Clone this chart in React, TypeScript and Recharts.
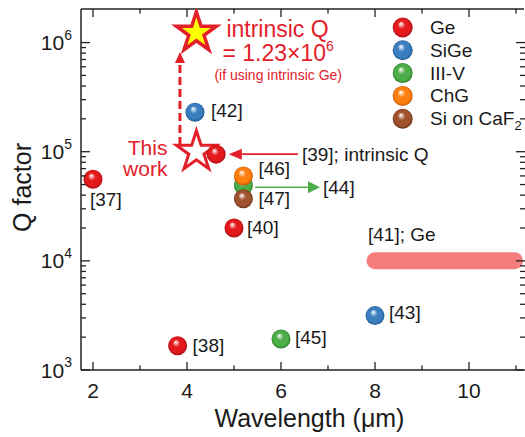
import React from "react";
import { Legend, ReferenceLine, Scatter, ScatterChart, XAxis, YAxis } from "recharts";

const FONT = '"Liberation Sans", Arial, Helvetica, sans-serif';
const RED = "#e3202a";
const INK = "#1a1a1a";
const AXIS = "#222";

// legend / materials
const materials = ["Ge", "SiGe", "III-V", "ChG", "Si on CaF2"];
const materialColors = ["#e3191c", "#3a7ebf", "#4cad49", "#ff7f0e", "#a0522d"];
const materialDark = ["#a30d12", "#1f5a94", "#2a7c28", "#c55800", "#6b3418"];

// wavelength (um), Q factor, reference tag
const geWavelength = [2.0, 3.8, 4.62, 5.0];
const geQ = [5.6e4, 1.67e3, 9.5e4, 2.0e4];
const geRef = ["[37]", "[38]", "", "[40]"];

const sigeWavelength = [4.17, 8.0];
const sigeQ = [2.3e5, 3.15e3];
const sigeRef = ["[42]", "[43]"];

const iiivWavelength = [5.2, 6.0];
const iiivQ = [4.9e4, 1.92e3];
const iiivRef = ["", "[45]"];

const chgWavelength = [5.2];
const chgQ = [6.0e4];
const chgRef = ["[46]"];

const caf2Wavelength = [5.2];
const caf2Q = [3.7e4];
const caf2Ref = ["[47]"];

// this work + intrinsic limit
const thisWorkPoint = [{ x: 4.2, y: 1.0e5 }];
const intrinsicPoint = [{ x: 4.2, y: 1.23e6 }];

// arrows and the [41] band
const dashArrowWl = [3.85, 3.85];
const dashArrowQ = [1.15e5, 8.2e5];
const redArrowWl = [6.36, 4.89];
const redArrowQ = [9.5e4, 9.5e4];
const greenArrowWl = [5.45, 6.83];
const greenArrowQ = [4.72e4, 4.72e4];
const geBandWl = [8.0, 10.97];
const geBandQ = [1e4, 1e4];

// axes
const xDomain = [1.745, 11.17];
const xMajor = [2, 4, 6, 8, 10];
const xTicks = [2, 3, 4, 5, 6, 7, 8, 9, 10, 11];
const yDomain = [1000, 2.03e6];
const yDecades = [1e3, 1e4, 1e5, 1e6];
const yMinorSteps = [2, 3, 4, 5, 6, 7, 8, 9];
const yTicks = yDecades.flatMap((d) =>
  d === 1e6 ? [d] : [d, ...yMinorSteps.map((m) => m * d)]
);

// label placement next to each sphere (dx, dy from its centre)
const labelOffset: Record<string, [number, number]> = {
  "[37]": [-3, 20],
  "[38]": [15, 0],
  "[40]": [13, 0],
  "[42]": [16, -2],
  "[43]": [14, -3],
  "[45]": [14, -2],
  "[46]": [15, -7],
  "[47]": [15, 0],
};

const series = [
  { wl: geWavelength, q: geQ, refs: geRef },
  { wl: sigeWavelength, q: sigeQ, refs: sigeRef },
  { wl: iiivWavelength, q: iiivQ, refs: iiivRef },
  { wl: chgWavelength, q: chgQ, refs: chgRef },
  { wl: caf2Wavelength, q: caf2Q, refs: caf2Ref },
].map((s, i) => ({
  name: materials[i],
  id: `sph${i}`,
  data: s.wl.map((x, j) => ({ x, y: s.q[j], ref: s.refs[j] })),
}));

const toSeg = (wl: number[], q: number[]) => [
  { x: wl[0], y: q[0] },
  { x: wl[1], y: q[1] },
];

const SphereGradient = ({ id, i }: { id: string; i: number }) => (
  <radialGradient id={id} cx="50%" cy="50%" r="50%" fx="40%" fy="30%">
    <stop offset="0%" stopColor="#ffffff" />
    <stop offset="40%" stopColor={materialColors[i]} />
    <stop offset="80%" stopColor={materialColors[i]} />
    <stop offset="100%" stopColor={materialDark[i]} />
  </radialGradient>
);

const makeSphere = (gid: string) => (props: any) => {
  const { cx, cy, payload } = props;
  const off = labelOffset[payload?.ref];
  return (
    <g>
      <circle cx={cx} cy={cy} r={9.5} fill={`url(#${gid})`} />
      {off && (
        <text
          x={cx + off[0]}
          y={cy + off[1]}
          dominantBaseline="central"
          fontSize={19}
          fontFamily={FONT}
          fill={INK}
        >
          {payload.ref}
        </text>
      )}
    </g>
  );
};

const starPoints = (cx: number, cy: number, R: number) =>
  Array.from({ length: 10 }, (_, i) => {
    const a = -Math.PI / 2 + (i * Math.PI) / 5;
    const rad = i % 2 === 0 ? R : R * 0.382;
    return `${cx + rad * Math.cos(a)},${cy + rad * Math.sin(a)}`;
  }).join(" ");

const IntrinsicStar = (props: any) => {
  const { cx, cy } = props;
  return (
    <g fontFamily={FONT} fill={RED}>
      <polygon
        points={starPoints(cx, cy, 21)}
        fill="#ffff00"
        stroke={RED}
        strokeWidth={3.5}
      />
      <text x={cx + 30} y={cy - 4} dominantBaseline="central" fontSize={23}>
        intrinsic Q
      </text>
      <text x={cx + 26} y={cy + 20} dominantBaseline="central" fontSize={23}>
        = 1.23×10
        <tspan dy={-7} fontSize={14}>
          6
        </tspan>
      </text>
      <text x={cx + 18} y={cy + 42} dominantBaseline="central" fontSize={14}>
        (if using intrinsic Ge)
      </text>
    </g>
  );
};

const ThisWorkStar = (props: any) => {
  const { cx, cy } = props;
  return (
    <g fontFamily={FONT}>
      <polygon
        points={starPoints(cx, cy, 21)}
        fill="#ffffff"
        stroke={RED}
        strokeWidth={3}
      />
      <text x={cx - 29} y={cy - 4} textAnchor="end" dominantBaseline="central" fontSize={21} fill={RED}>
        This
      </text>
      <text x={cx - 29} y={cy + 17} textAnchor="end" dominantBaseline="central" fontSize={21} fill={RED}>
        work
      </text>
    </g>
  );
};

type ArrowOpts = {
  color: string;
  width: number;
  dash?: string;
  headLen: number;
  headW: number;
  text?: string;
  textAt?: "start" | "end";
};

const makeArrow = (o: ArrowOpts) => (props: any) => {
  const x1 = Number(props.x1);
  const y1 = Number(props.y1);
  const x2 = Number(props.x2);
  const y2 = Number(props.y2);
  const len = Math.hypot(x2 - x1, y2 - y1) || 1;
  const ux = (x2 - x1) / len;
  const uy = (y2 - y1) / len;
  const bx = x2 - ux * o.headLen;
  const by = y2 - uy * o.headLen;
  const px = -uy * (o.headW / 2);
  const py = ux * (o.headW / 2);
  const tx = o.textAt === "start" ? x1 + 4 : x2 + 3;
  const ty = o.textAt === "start" ? y1 : y2;
  return (
    <g>
      <line
        x1={x1}
        y1={y1}
        x2={bx}
        y2={by}
        stroke={o.color}
        strokeWidth={o.width}
        strokeDasharray={o.dash}
      />
      <polygon
        points={`${x2},${y2} ${bx + px},${by + py} ${bx - px},${by - py}`}
        fill={o.color}
      />
      {o.text && (
        <text x={tx} y={ty} dominantBaseline="central" fontSize={19} fontFamily={FONT} fill={INK}>
          {o.text}
        </text>
      )}
    </g>
  );
};

const GeBand = (props: any) => {
  const x1 = Number(props.x1);
  const y1 = Number(props.y1);
  const x2 = Number(props.x2);
  const y2 = Number(props.y2);
  return (
    <g>
      <line x1={x1} y1={y1} x2={x2} y2={y2} stroke="#f67d7d" strokeWidth={17} strokeLinecap="round" />
      <text x={x1 - 7} y={y1 - 26} dominantBaseline="central" fontSize={19} fontFamily={FONT} fill={INK}>
        [41]; Ge
      </text>
    </g>
  );
};

const BottomTick = (props: any) => {
  const { x, y, payload } = props;
  const major = xMajor.includes(payload.value);
  return (
    <g>
      <line x1={x} x2={x} y1={y} y2={y - (major ? 8 : 4.5)} stroke={AXIS} strokeWidth={1.3} />
      {major && (
        <text x={x} y={y + 20} textAnchor="middle" dominantBaseline="central" fontSize={21} fontFamily={FONT} fill={INK}>
          {payload.value}
        </text>
      )}
    </g>
  );
};

const TopTick = (props: any) => {
  const { x, y, payload } = props;
  const major = xMajor.includes(payload.value);
  return <line x1={x} x2={x} y1={y} y2={y + (major ? 8 : 4.5)} stroke={AXIS} strokeWidth={1.3} />;
};

const isDecade = (v: number) => yDecades.includes(v);

const LeftTick = (props: any) => {
  const { x, y, payload } = props;
  const v = payload.value;
  const major = isDecade(v);
  return (
    <g>
      <line x1={x} x2={x + (major ? 9 : 5)} y1={y} y2={y} stroke={AXIS} strokeWidth={1.3} />
      {major && (
        <text x={x - 9} y={y} textAnchor="end" dominantBaseline="central" fontSize={21} fontFamily={FONT} fill={INK}>
          10
          <tspan dy={-8} fontSize={14}>
            {Math.round(Math.log10(v))}
          </tspan>
        </text>
      )}
    </g>
  );
};

const RightTick = (props: any) => {
  const { x, y, payload } = props;
  const major = isDecade(payload.value);
  return <line x1={x + 1} x2={x + 1 - (major ? 9 : 5)} y1={y} y2={y} stroke={AXIS} strokeWidth={1.3} />;
};

const XTitle = (props: any) => {
  const vb = props.viewBox || { x: 81, y: 370, width: 443, height: 67 };
  return (
    <text
      x={vb.x + vb.width / 2 + 7}
      y={vb.y + 48}
      textAnchor="middle"
      dominantBaseline="central"
      fontSize={25}
      fontFamily={FONT}
      fill={INK}
    >
      Wavelength (μm)
    </text>
  );
};

const YTitle = (props: any) => {
  const vb = props.viewBox || { x: 0, y: 9, width: 81, height: 361 };
  const cx = vb.x + 22;
  const cy = vb.y + vb.height / 2 - 2;
  return (
    <text
      x={cx}
      y={cy}
      transform={`rotate(-90, ${cx}, ${cy})`}
      textAnchor="middle"
      dominantBaseline="central"
      fontSize={25}
      fontFamily={FONT}
      fill={INK}
    >
      Q factor
    </text>
  );
};

const LegendBox = () => (
  <svg width={135} height={125} style={{ display: "block", overflow: "visible" }}>
    <defs>
      {materials.map((_, i) => (
        <SphereGradient key={i} id={`lg${i}`} i={i} />
      ))}
    </defs>
    {materials.map((name, i) => {
      const cy = 13.5 + i * 22.8;
      return (
        <g key={name}>
          <circle cx={12.7} cy={cy} r={10} fill={`url(#lg${i})`} />
          <text x={40} y={cy} dominantBaseline="central" fontSize={19} fontFamily={FONT} fill={INK}>
            {name === "Si on CaF2" ? (
              <>
                Si on CaF
                <tspan dy={6} fontSize={13}>
                  2
                </tspan>
              </>
            ) : (
              name
            )}
          </text>
        </g>
      );
    })}
  </svg>
);

export default function App() {
  return (
    <div style={{ position: "absolute", left: 0, top: 0, width: 525, height: 437, background: "#fff" }}>
      <ScatterChart width={525} height={437} margin={{ top: 8, right: 0, bottom: 0, left: 0 }}>
        <defs>
          {series.map((s, i) => (
            <SphereGradient key={s.id} id={s.id} i={i} />
          ))}
        </defs>
        <XAxis
          dataKey="x"
          type="number"
          domain={xDomain}
          allowDataOverflow
          ticks={xTicks}
          interval={0}
          tick={BottomTick}
          tickLine={false}
          tickSize={0}
          tickMargin={0}
          height={67}
          axisLine={{ stroke: AXIS, strokeWidth: 1.5 }}
          label={XTitle}
        />
        <XAxis
          xAxisId="top"
          orientation="top"
          dataKey="x"
          type="number"
          domain={xDomain}
          allowDataOverflow
          ticks={xTicks}
          interval={0}
          tick={TopTick}
          tickLine={false}
          tickSize={0}
          tickMargin={0}
          height={1}
          axisLine={{ stroke: AXIS, strokeWidth: 1.5 }}
        />
        <YAxis
          dataKey="y"
          type="number"
          scale="log"
          domain={yDomain}
          allowDataOverflow
          ticks={yTicks}
          interval={0}
          tick={LeftTick}
          tickLine={false}
          tickSize={0}
          tickMargin={0}
          width={81}
          axisLine={{ stroke: AXIS, strokeWidth: 1.5 }}
          label={YTitle}
        />
        <YAxis
          yAxisId="right"
          orientation="right"
          dataKey="y"
          type="number"
          scale="log"
          domain={yDomain}
          allowDataOverflow
          ticks={yTicks}
          interval={0}
          tick={RightTick}
          tickLine={false}
          tickSize={0}
          tickMargin={0}
          width={1}
          axisLine={false}
        />
        <Legend
          layout="vertical"
          align="center"
          verticalAlign="middle"
          content={LegendBox}
          wrapperStyle={{ position: "absolute", left: 390, top: 14, width: 135, height: 125 }}
        />
        <ReferenceLine
          segment={toSeg(geBandWl, geBandQ)}
          shape={GeBand}
        />
        <ReferenceLine
          segment={toSeg(dashArrowWl, dashArrowQ)}
          shape={makeArrow({ color: RED, width: 3, dash: "8 4", headLen: 11, headW: 10 })}
        />
        <ReferenceLine
          segment={toSeg(redArrowWl, redArrowQ)}
          shape={makeArrow({ color: RED, width: 1.6, headLen: 13, headW: 11, text: "[39]; intrinsic Q", textAt: "start" })}
        />
        <ReferenceLine
          segment={toSeg(greenArrowWl, greenArrowQ)}
          shape={makeArrow({ color: "#4cad49", width: 1.6, headLen: 12, headW: 12, text: "[44]", textAt: "end" })}
        />
        <Scatter
          name="intrinsic"
          data={intrinsicPoint}
          xAxisId="top"
          yAxisId="right"
          shape={IntrinsicStar}
          legendType="none"
          isAnimationActive={false}
        />
        <Scatter
          name="this work"
          data={thisWorkPoint}
          xAxisId="top"
          yAxisId="right"
          shape={ThisWorkStar}
          legendType="none"
          isAnimationActive={false}
        />
        {series.map((s) => (
          <Scatter
            key={s.id}
            name={s.name}
            data={s.data}
            shape={makeSphere(s.id)}
            isAnimationActive={false}
          />
        ))}
      </ScatterChart>
    </div>
  );
}
